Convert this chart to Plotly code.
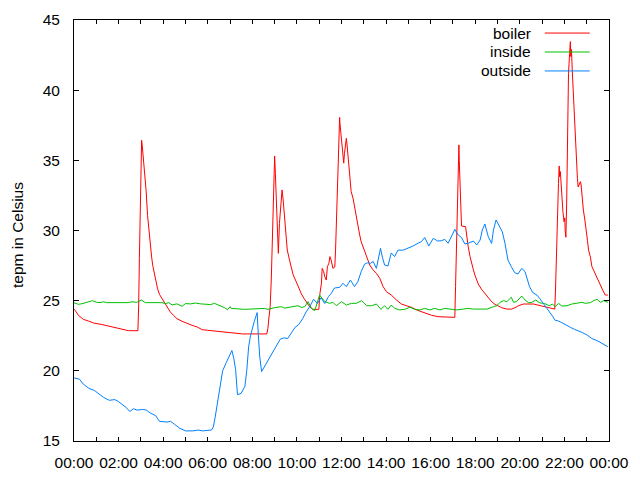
import plotly.graph_objects as go

DAY = "2000-01-01"
NEXT_DAY = "2000-01-02"

series_names = ["boiler", "inside", "outside"]
series_colors = ["#ff0000", "#00c000", "#0080ff"]

boiler_times = ["00:00", "00:03", "00:12", "00:25", "00:39", "00:52", "01:15", "01:28", "01:42", "01:55",
                "02:09", "02:27", "02:52", "02:54", "02:56", "02:58", "03:00", "03:02", "03:04", "03:07",
                "03:11", "03:14", "03:18", "03:22", "03:25", "03:29", "03:32", "03:36", "03:41", "03:45",
                "03:50", "03:57", "04:03", "04:10", "04:19", "04:28", "04:37", "04:51", "05:05", "05:18",
                "05:32", "05:45", "05:59", "06:18", "06:45", "07:12", "07:34", "08:39", "08:42", "08:44",
                "08:48", "08:51", "08:53", "08:56", "08:58", "09:00", "09:02", "09:05", "09:08", "09:10",
                "09:13", "09:16", "09:19", "09:20", "09:23", "09:26", "09:29", "09:34", "09:40", "09:45",
                "09:50", "09:58", "10:05", "10:12", "10:19", "10:26", "10:34", "10:43", "10:59", "11:02",
                "11:06", "11:08", "11:12", "11:15", "11:19", "11:22", "11:26", "11:29", "11:32", "11:37",
                "11:42", "11:44", "11:47", "11:50", "11:53", "11:55", "11:56", "11:59", "12:02", "12:04",
                "12:06", "12:08", "12:11", "12:13", "12:15", "12:19", "12:22", "12:26", "12:31", "12:35",
                "12:40", "12:44", "12:49", "12:53", "12:59", "13:07", "13:16", "13:25", "13:34", "13:43",
                "13:52", "14:01", "14:14", "14:28", "14:41", "14:55", "15:08", "15:22", "15:35", "15:49",
                "16:02", "16:20", "16:43", "17:05", "17:07", "17:09", "17:11", "17:13", "17:16", "17:17",
                "17:20", "17:22", "17:23", "17:34", "17:37", "17:41", "17:46", "17:50", "17:55", "17:59",
                "18:04", "18:08", "18:17", "18:26", "18:35", "18:44", "18:53", "19:02", "19:11", "19:25",
                "19:38", "19:47", "19:56", "20:10", "20:37", "20:59", "21:13", "21:26", "21:34", "21:36",
                "21:38", "21:41", "21:44", "21:46", "21:47", "21:49", "21:51", "21:53", "21:56", "21:59",
                "22:01", "22:02", "22:04", "22:06", "22:08", "22:10", "22:11", "22:14", "22:16", "22:17",
                "22:19", "22:21", "22:24", "22:27", "22:29", "22:32", "22:35", "22:37", "22:40", "22:43",
                "22:45", "22:47", "22:51", "22:55", "22:58", "23:02", "23:05", "23:10", "23:14", "23:22",
                "23:29", "23:36", "23:43", "23:50", "23:57"]
boiler_values = [24.4, 24.31, 23.95, 23.67, 23.55, 23.41, 23.3, 23.22, 23.12, 23.03,
                 22.93, 22.86, 22.86, 24.55, 28.0, 31.3, 34.76, 36.43, 35.95, 35.0,
                 34.05, 32.86, 31.08, 29.9, 28.94, 28.1, 27.5, 26.92, 26.26, 25.85,
                 25.45, 25.14, 24.83, 24.55, 24.2, 23.95, 23.72, 23.53, 23.36, 23.24,
                 23.12, 22.93, 22.89, 22.84, 22.79, 22.67, 22.63, 22.63, 23.03, 23.62,
                 24.57, 26.47, 28.85, 31.46, 34.07, 35.31, 34.07, 31.46, 29.32, 28.37,
                 30.51, 31.7, 32.65, 32.89, 32.17, 30.99, 29.8, 28.61, 27.9, 27.3,
                 26.83, 26.36, 25.88, 25.48, 25.17, 24.86, 24.57, 24.38, 24.38, 25.52,
                 26.24, 27.3, 27.07, 26.71, 26.47, 27.42, 27.66, 28.14, 27.9, 27.3,
                 27.4, 28.6, 31.2, 34.07, 36.92, 38.06, 37.6, 36.8, 36.1, 35.14,
                 34.8, 35.5, 36.2, 36.57, 36.1, 35.0, 33.84, 32.77, 32.3, 31.7,
                 30.99, 30.15, 29.68, 29.2, 28.73, 28.14, 27.54, 27.19, 26.95, 26.59,
                 26.0, 25.64, 25.4, 25.05, 24.76, 24.64, 24.53, 24.34, 24.22, 24.05,
                 23.96, 23.86, 23.81, 23.81, 26.0, 28.6, 31.46, 34.55, 36.1, 35.0,
                 33.1, 31.7, 30.32, 30.27, 29.56, 28.85, 28.14, 27.66, 27.2, 26.83,
                 26.47, 26.19, 25.81, 25.52, 25.21, 24.93, 24.74, 24.62, 24.5, 24.4,
                 24.4, 24.5, 24.64, 24.76, 24.76, 24.62, 24.52, 24.45, 24.4, 25.76,
                 28.1, 30.75, 33.36, 34.6, 33.84, 34.2, 33.1, 32.65, 31.35, 30.63,
                 30.9, 30.0, 29.52, 31.9, 34.8, 38.23, 41.2, 42.63, 43.46, 42.4,
                 42.9, 41.44, 39.78, 37.88, 35.98, 34.79, 33.72, 33.1, 33.36, 33.48,
                 33.24, 32.4, 31.46, 30.75, 29.9, 29.3, 28.6, 28.1, 27.43, 26.95,
                 26.52, 26.12, 25.76, 25.4, 25.4]

inside_times = ["00:00", "00:12", "00:21", "00:30", "00:39", "00:50", "01:01", "01:10", "01:19", "01:28",
                "02:27", "02:36", "02:49", "03:01", "03:12", "03:57", "04:06", "04:15", "04:24", "04:37",
                "04:51", "05:00", "05:14", "05:27", "05:41", "05:54", "06:08", "06:18", "06:36", "06:45",
                "06:53", "07:00", "07:03", "07:39", "08:33", "08:42", "09:00", "09:18", "09:27", "09:49",
                "10:03", "10:12", "10:21", "10:30", "10:39", "10:48", "11:01", "11:15", "11:28", "11:37",
                "11:46", "12:00", "12:13", "12:27", "12:40", "12:54", "13:08", "13:21", "13:34", "13:46",
                "13:56", "14:05", "14:14", "14:23", "14:36", "14:50", "15:04", "15:17", "15:31", "15:44",
                "15:58", "16:11", "16:25", "16:38", "16:56", "17:10", "17:28", "17:41", "17:55", "18:32",
                "18:49", "18:58", "19:07", "19:16", "19:25", "19:37", "19:43", "19:52", "20:05", "20:14",
                "20:23", "20:32", "20:43", "20:52", "21:01", "21:10", "21:19", "21:28", "21:35", "21:44",
                "21:53", "22:07", "22:20", "22:34", "22:47", "22:56", "23:10", "23:19", "23:28", "23:37",
                "23:46", "23:57"]
inside_values = [24.85, 24.74, 24.78, 24.86, 24.9, 25.0, 24.88, 24.86, 24.92, 24.86,
                 24.86, 24.92, 24.88, 25.05, 24.86, 24.86, 24.79, 24.86, 24.7, 24.77,
                 24.6, 24.79, 24.77, 24.83, 24.77, 24.75, 24.72, 24.81, 24.64, 24.5,
                 24.35, 24.57, 24.45, 24.38, 24.45, 24.38, 24.5, 24.57, 24.47, 24.57,
                 24.64, 24.52, 24.57, 24.93, 24.45, 24.29, 25.4, 24.93, 24.81, 24.88,
                 24.64, 24.93, 24.69, 24.81, 24.81, 25.0, 24.64, 24.64, 24.76, 24.38,
                 24.64, 24.38, 24.69, 24.45, 24.34, 24.38, 24.53, 24.38, 24.34, 24.45,
                 24.34, 24.45, 24.34, 24.45, 24.38, 24.34, 24.4, 24.45, 24.4, 24.4,
                 24.57, 24.64, 24.88, 25.0, 24.93, 25.24, 24.88, 24.95, 25.33, 25.05,
                 24.86, 24.88, 25.05, 24.86, 24.81, 24.76, 24.64, 24.76, 24.57, 24.81,
                 24.62, 24.64, 24.76, 24.81, 24.88, 24.81, 24.86, 25.0, 25.1, 24.88,
                 25.0, 24.88]

outside_times = ["00:00", "00:15", "00:25", "00:40", "00:55", "01:05", "01:20", "01:35", "01:50", "02:00",
                 "02:20", "02:30", "02:40", "02:50", "03:05", "03:15", "03:25", "03:40", "03:50", "04:10",
                 "04:20", "04:30", "04:45", "05:00", "05:20", "05:35", "05:45", "06:10", "06:15", "06:20",
                 "06:25", "06:30", "06:35", "06:40", "06:50", "07:00", "07:05", "07:10", "07:15", "07:20",
                 "07:30", "07:40", "07:45", "07:50", "07:55", "08:05", "08:10", "08:13", "08:16", "08:20",
                 "08:25", "08:35", "08:45", "08:55", "09:05", "09:15", "09:25", "09:35", "09:45", "09:55",
                 "10:05", "10:15", "10:25", "10:35", "10:45", "10:55", "11:05", "11:15", "11:25", "11:32",
                 "11:41", "11:55", "12:04", "12:13", "12:24", "12:35", "12:44", "12:53", "13:02", "13:10",
                 "13:18", "13:25", "13:34", "13:40", "13:45", "13:50", "13:56", "14:05", "14:14", "14:23",
                 "14:32", "14:46", "14:59", "15:13", "15:26", "15:35", "15:44", "15:55", "16:07", "16:19",
                 "16:29", "16:38", "16:47", "16:56", "17:05", "17:14", "17:23", "17:32", "17:42", "17:55",
                 "18:04", "18:13", "18:19", "18:26", "18:35", "18:44", "18:49", "18:56", "19:04", "19:13",
                 "19:20", "19:28", "19:37", "19:46", "19:55", "20:05", "20:14", "20:20", "20:26", "20:35",
                 "20:46", "20:53", "21:00", "21:08", "21:19", "21:28", "21:35", "21:44", "21:53", "22:04",
                 "22:16", "22:27", "22:38", "22:49", "23:01", "23:14", "23:28", "23:41", "23:57"]
outside_values = [19.5, 19.4, 19.05, 18.75, 18.6, 18.4, 18.1, 17.9, 17.95, 17.8,
                  17.4, 17.1, 17.3, 17.2, 17.25, 17.2, 17.0, 16.8, 16.4, 16.35,
                  16.4, 16.2, 15.9, 15.72, 15.72, 15.78, 15.72, 15.78, 16.0, 16.7,
                  17.5, 18.5, 19.4, 20.0, 20.6, 21.2, 21.45, 20.9, 20.1, 18.3,
                  18.4, 18.9, 20.0, 21.7, 22.5, 23.5, 23.9, 24.15, 22.6, 21.0,
                  19.95, 20.4, 20.8, 21.3, 21.8, 22.25, 22.35, 22.3, 22.7, 23.1,
                  23.3, 23.7, 24.2, 24.6, 25.1, 24.8, 25.2, 24.8, 25.3, 25.5,
                  25.9, 25.95, 26.24, 26.0, 26.47, 26.0, 26.35, 27.07, 27.6, 27.7,
                  27.66, 27.8, 27.3, 28.14, 28.73, 28.1, 27.54, 27.47, 28.4, 28.14,
                  28.6, 28.6, 28.73, 28.9, 29.09, 29.2, 29.5, 28.9, 29.44, 29.25,
                  29.27, 29.37, 29.09, 29.56, 30.08, 29.68, 29.5, 29.04, 29.1, 29.25,
                  28.97, 29.32, 30.03, 30.46, 29.56, 29.08, 30.03, 30.75, 30.39, 29.9,
                  29.08, 27.9, 27.42, 27.0, 26.9, 27.3, 27.07, 26.47, 26.0, 25.57,
                  25.4, 25.17, 24.93, 24.57, 24.2, 23.9, 23.6, 23.55, 23.43, 23.3,
                  23.1, 22.96, 22.86, 22.72, 22.55, 22.3, 22.15, 21.96, 21.72]

y_range = [15, 45]
y_ticks = [15, 20, 25, 30, 35, 40, 45]
y_title = "tepm in Celsius"

FONT = dict(family="Liberation Sans", size=15.5, color="#000000")


def stamp(hm):
    return f"{DAY} {hm}"


fig = go.Figure()
all_series = [(boiler_times, boiler_values), (inside_times, inside_values), (outside_times, outside_values)]
for name, color, (times, values) in zip(series_names, series_colors, all_series):
    fig.add_trace(go.Scatter(
        x=[stamp(t) for t in times], y=values, mode="lines", name=name,
        line=dict(color=color, width=1), showlegend=False,
    ))

# gnuplot-style key: text right-aligned, line sample to its right
key_y = [0.969, 0.924, 0.879]
for name, color, ky in zip(series_names, series_colors, key_y):
    fig.add_annotation(x=0.858, y=ky, xref="paper", yref="paper", text=name, showarrow=False,
                       xanchor="right", yanchor="middle", font=FONT)
    fig.add_shape(type="line", xref="paper", yref="paper", x0=0.880, x1=0.964, y0=ky, y1=ky,
                  line=dict(color=color, width=1))

fig.add_annotation(x=-0.106, y=0.49, xref="paper", yref="paper", text=y_title, textangle=-90,
                   showarrow=False, xanchor="center", yanchor="middle", font=FONT)

axis_common = dict(showline=True, linecolor="#000000", linewidth=1, mirror="allticks",
                   ticks="inside", tickcolor="#000000", tickwidth=1, showgrid=False, zeroline=False,
                   tickfont=FONT)

fig.update_xaxes(type="date", range=[stamp("00:00"), f"{NEXT_DAY} 00:00"], tickformat="%H:%M",
                 tick0=stamp("00:00"), dtick=7200000, ticklen=4, ticklabelstandoff=7,
                 minor=dict(dtick=3600000, ticks="inside", ticklen=4, tickcolor="#000000", showgrid=False),
                 **axis_common)
fig.update_yaxes(range=y_range, tickvals=y_ticks, ticklen=5, ticklabelstandoff=10, **axis_common)

# page body has an 8px margin: size the figure so the plot area lands at x 74-609, y 20-441
fig.update_layout(width=624, height=464, margin=dict(l=66, r=23, t=12, b=31, autoexpand=False),
                  plot_bgcolor="#ffffff", paper_bgcolor="#ffffff", font=FONT)

fig.write_html("out.html")
